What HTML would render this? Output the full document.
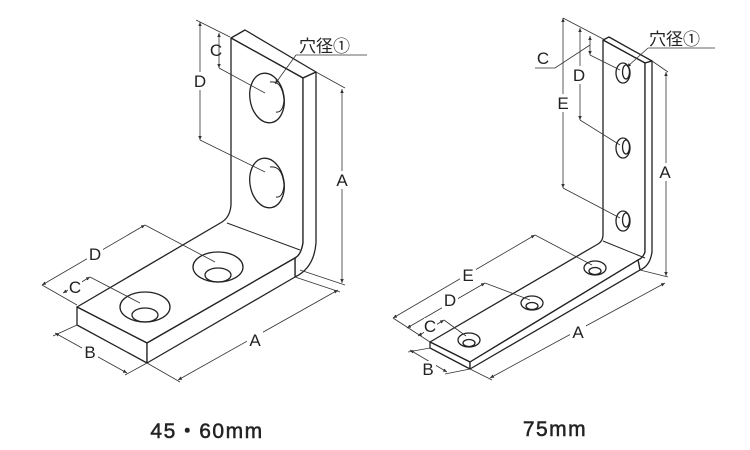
<!DOCTYPE html>
<html><head><meta charset="utf-8"><style>
html,body{margin:0;padding:0;background:#fff;}
svg{display:block}
text{font-family:"Liberation Sans","Noto Sans CJK JP",sans-serif;fill:#222}
</style></head><body>
<svg width="750" height="450" viewBox="0 0 750 450" xmlns="http://www.w3.org/2000/svg">
<defs>
<marker id="ar" markerWidth="6" markerHeight="6" refX="5" refY="3" orient="auto-start-reverse"><path d="M0,0.8 L5,3 L0,5.2 z" fill="#333"/></marker>
</defs>
<g fill="none" stroke="#222" stroke-width="1.3" stroke-linejoin="round">
<path d="M231,38 L245,30 L316,72 L303,78 Z" fill="#fff"/>
<path d="M231,38 L303,78 L303,243 Q301,255 295,258 L147,343 L77,307 L222,222 Q230,217 231,205 Z" fill="#fff"/>
<path d="M303,78 L316,72 L316,243 Q314,268 295,277 L295,258 Q301,255 303,243 Z" fill="#fff"/>
<path d="M77,307 L147,343 L147,363 L77,325 Z" fill="#fff"/>
<path d="M147,343 L295,258 L295,277 L147,363 Z" fill="#fff"/>
<path d="M227,223 L300,250" stroke-width="1"/>
<ellipse cx="267" cy="98" rx="17" ry="25" transform="rotate(-10 267 98)"/>
<path d="M270,82 Q282,80 284,100 Q283,113 276,112" stroke-width="1"/>
<ellipse cx="267" cy="183" rx="17" ry="25" transform="rotate(-10 267 183)"/>
<path d="M270,167 Q282,165 284,185 Q283,198 276,197" stroke-width="1"/>
<ellipse cx="145" cy="307" rx="25" ry="15"/>
<ellipse cx="145" cy="315" rx="13" ry="7"/>
<ellipse cx="218" cy="267" rx="25" ry="15"/>
<ellipse cx="218" cy="275" rx="13" ry="7"/>
<path d="M603,40 L609,37 L652,61 L645,63 Z" fill="#fff"/>
<path d="M603,40 L645,63 L645,252 Q643,258 638,260 L470,362 L430,342 L598,244 Q603,241 603,235 Z" fill="#fff"/>
<path d="M645,63 L652,61 L652,252 Q650,266 640,270 L638,260 Q643,258 645,252 Z" fill="#fff"/>
<path d="M430,342 L470,362 L470,369 L430,348 Z" fill="#fff"/>
<path d="M470,362 L638,260 L640,270 L470,369 Z" fill="#fff"/>
<path d="M603,241 L645,258" stroke-width="1"/>
<ellipse cx="623" cy="73" rx="7" ry="10"/><ellipse cx="626" cy="72" rx="3.5" ry="7"/>
<ellipse cx="623" cy="148" rx="7" ry="10"/><ellipse cx="626" cy="147" rx="3.5" ry="7"/>
<ellipse cx="623" cy="221" rx="7" ry="10"/><ellipse cx="626" cy="220" rx="3.5" ry="7"/>
<ellipse cx="469" cy="340" rx="11" ry="7"/><ellipse cx="469" cy="343" rx="6" ry="3.5"/>
<ellipse cx="532" cy="303" rx="11" ry="7"/><ellipse cx="532" cy="306" rx="6" ry="3.5"/>
<ellipse cx="595" cy="268" rx="11" ry="7"/><ellipse cx="595" cy="271" rx="6" ry="3.5"/>
</g>
<g fill="none" stroke="#333" stroke-width="0.8">
<line x1="316" y1="72" x2="345" y2="88"/><line x1="300" y1="270" x2="345" y2="285"/>
<line x1="342" y1="89" x2="342" y2="283" marker-start="url(#ar)" marker-end="url(#ar)"/>
<line x1="196" y1="20" x2="230" y2="37"/>
<line x1="200" y1="22" x2="200" y2="140" marker-start="url(#ar)" marker-end="url(#ar)"/>
<line x1="200" y1="140" x2="265" y2="172"/>
<line x1="219" y1="33" x2="219" y2="68" marker-start="url(#ar)" marker-end="url(#ar)"/>
<line x1="219" y1="68" x2="265" y2="93"/>
<line x1="296" y1="55" x2="367" y2="55"/>
<line x1="296" y1="55" x2="275" y2="84" marker-end="url(#ar)"/>
<line x1="42" y1="285" x2="145" y2="225" marker-start="url(#ar)" marker-end="url(#ar)"/>
<line x1="145" y1="225" x2="215" y2="262"/>
<line x1="42" y1="285" x2="77" y2="305"/>
<line x1="63" y1="293" x2="90" y2="277" marker-start="url(#ar)" marker-end="url(#ar)"/>
<line x1="90" y1="277" x2="140" y2="303"/>
<line x1="55" y1="333" x2="127" y2="373" marker-start="url(#ar)" marker-end="url(#ar)"/>
<line x1="77" y1="325" x2="53" y2="336"/><line x1="147" y1="363" x2="125" y2="375"/>
<line x1="178" y1="380" x2="338" y2="290" marker-start="url(#ar)" marker-end="url(#ar)"/>
<line x1="147" y1="363" x2="180" y2="382"/><line x1="295" y1="277" x2="340" y2="292"/>
<line x1="652" y1="61" x2="668" y2="72"/><line x1="640" y1="270" x2="668" y2="277"/>
<line x1="666" y1="72" x2="666" y2="276" marker-start="url(#ar)" marker-end="url(#ar)"/>
<line x1="563" y1="18" x2="605" y2="40"/>
<line x1="563" y1="18" x2="563" y2="188" marker-start="url(#ar)" marker-end="url(#ar)"/>
<line x1="563" y1="188" x2="620" y2="218"/>
<line x1="580" y1="28" x2="580" y2="120" marker-start="url(#ar)" marker-end="url(#ar)"/>
<line x1="580" y1="120" x2="620" y2="145"/>
<line x1="590" y1="36" x2="590" y2="55" marker-start="url(#ar)" marker-end="url(#ar)"/>
<line x1="590" y1="55" x2="620" y2="70"/>
<polyline points="535,68 555,68 590,45"/>
<line x1="648" y1="48" x2="715" y2="48"/>
<line x1="648" y1="48" x2="627" y2="67" marker-end="url(#ar)"/>
<line x1="393" y1="318" x2="535" y2="235" marker-start="url(#ar)" marker-end="url(#ar)"/>
<line x1="535" y1="235" x2="592" y2="265"/>
<line x1="407" y1="328" x2="485" y2="283" marker-start="url(#ar)" marker-end="url(#ar)"/>
<line x1="485" y1="283" x2="530" y2="300"/>
<line x1="418" y1="336" x2="444" y2="320" marker-start="url(#ar)" marker-end="url(#ar)"/>
<line x1="444" y1="320" x2="466" y2="336"/>
<line x1="393" y1="318" x2="430" y2="342"/>
<line x1="410" y1="350" x2="447" y2="372" marker-start="url(#ar)" marker-end="url(#ar)"/>
<line x1="430" y1="348" x2="408" y2="352"/><line x1="470" y1="369" x2="445" y2="374"/>
<line x1="490" y1="378" x2="665" y2="283" marker-start="url(#ar)" marker-end="url(#ar)"/>
<line x1="470" y1="369" x2="492" y2="380"/>
</g>
<g font-size="17">
<rect x="334" y="171" width="16" height="18" fill="#fff"/><text x="342" y="186" text-anchor="middle">A</text>
<rect x="192" y="72" width="16" height="18" fill="#fff"/><text x="200" y="87" text-anchor="middle">D</text>
<text x="216" y="56" text-anchor="middle">C</text>
<text x="299" y="52" font-size="17">穴径①</text>
<rect x="87" y="245" width="16" height="18" fill="#fff"/><text x="95" y="260" text-anchor="middle">D</text>
<rect x="68" y="278" width="14" height="18" fill="#fff"/><text x="75" y="293" text-anchor="middle">C</text>
<rect x="82" y="343" width="16" height="18" fill="#fff"/><text x="90" y="358" text-anchor="middle">B</text>
<rect x="247" y="331" width="16" height="18" fill="#fff"/><text x="255" y="346" text-anchor="middle">A</text>
<rect x="657" y="163" width="16" height="18" fill="#fff"/><text x="665" y="178" text-anchor="middle">A</text>
<rect x="555" y="94" width="16" height="18" fill="#fff"/><text x="563" y="109" text-anchor="middle">E</text>
<rect x="572" y="66" width="16" height="18" fill="#fff"/><text x="579" y="81" text-anchor="middle">D</text>
<text x="543" y="64" text-anchor="middle">C</text>
<text x="649" y="45" font-size="17">穴径①</text>
<rect x="460" y="266" width="16" height="18" fill="#fff"/><text x="468" y="281" text-anchor="middle">E</text>
<rect x="442" y="292" width="16" height="18" fill="#fff"/><text x="450" y="306" text-anchor="middle">D</text>
<rect x="424" y="318" width="13" height="16" fill="#fff"/><text x="430" y="332" text-anchor="middle">C</text>
<rect x="420" y="361" width="16" height="18" fill="#fff"/><text x="428" y="375" text-anchor="middle">B</text>
<rect x="570" y="323" width="16" height="18" fill="#fff"/><text x="578" y="338" text-anchor="middle">A</text>
</g>
<text x="207" y="438" font-size="21" text-anchor="middle" stroke="#222" stroke-width="0.5" style="letter-spacing:1.5px">45・60mm</text>
<text x="555" y="436" font-size="21" text-anchor="middle" stroke="#222" stroke-width="0.5" style="letter-spacing:1.5px">75mm</text>
</svg>
</body></html>
